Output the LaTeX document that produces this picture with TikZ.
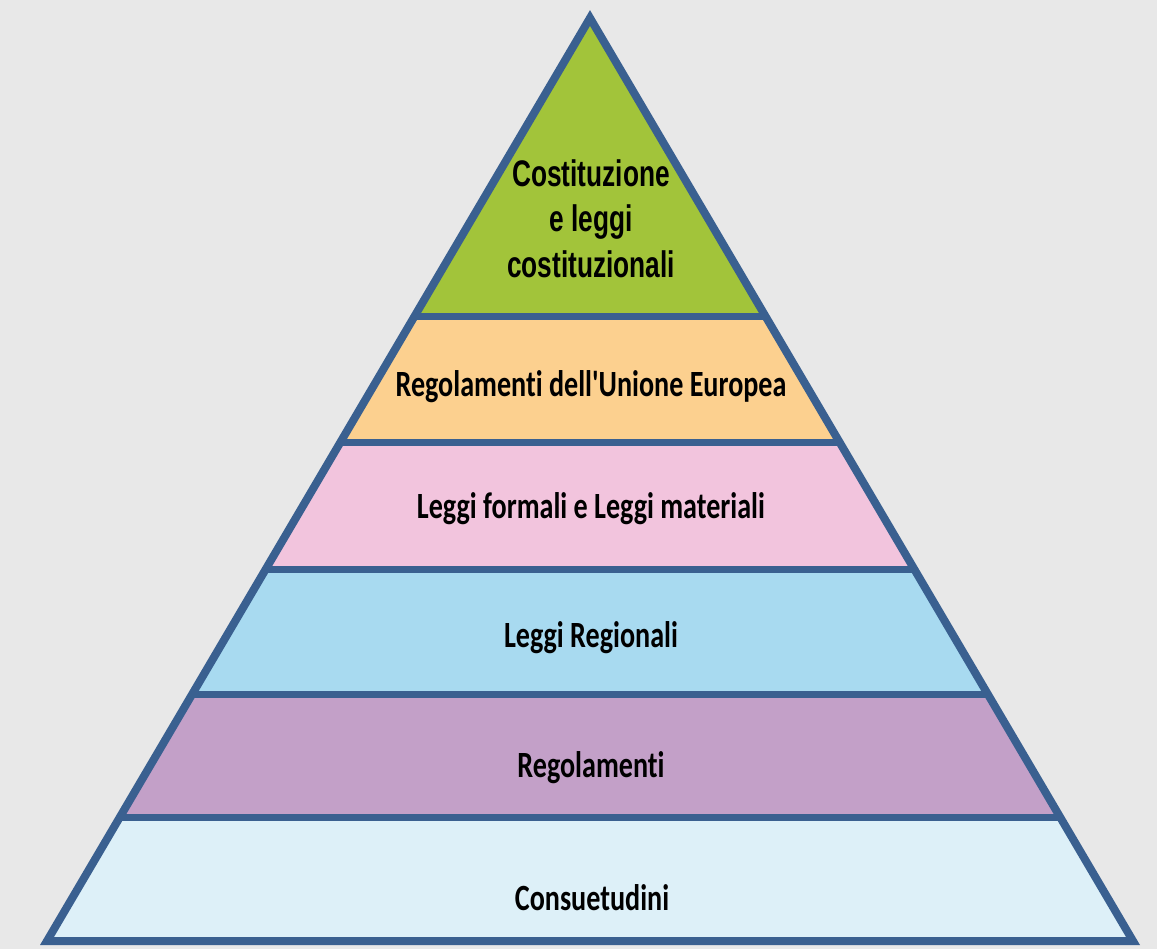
\documentclass[tikz,border=0pt]{standalone}
\usepackage{fontspec}
\usetikzlibrary{calc}
\newfontfamily\carl{Carlito}[Ligatures=NoCommon]
\newfontfamily\libs{Liberation Sans}
\definecolor{bgc}{HTML}{E8E8E8}
\definecolor{cgreen}{HTML}{A2C43A}
\definecolor{corange}{HTML}{FCD08F}
\definecolor{cpink}{HTML}{F2C4DD}
\definecolor{cblue}{HTML}{A8DAF0}
\definecolor{cpurple}{HTML}{C3A0C8}
\definecolor{clight}{HTML}{DDF0F8}
\definecolor{cborder}{HTML}{3A6090}
\newcommand{\toptext}[1]{\scalebox{0.71}[1]{\libs\bfseries\fontsize{37}{45}\selectfont #1}}
\newcommand{\bandtext}[1]{\scalebox{0.76}[1]{\carl\bfseries\fontsize{37}{45}\selectfont #1}}
\begin{document}
\begin{tikzpicture}[x=1pt,y=-1pt,
  lbl/.style={inner sep=0pt,anchor=base,text=black},
  sep/.style={draw=cborder,line width=7pt},
  outline/.style={draw=cborder,line width=8pt,line join=miter}]
\fill[bgc] (0,0) rectangle (1157,949);
\useasboundingbox (0,0) rectangle (1157,949);
\coordinate (A) at (590,18);
\coordinate (BL) at (47,941);
\coordinate (BR) at (1133,941);
\begin{scope}
\clip (A) -- (BL) -- (BR) -- cycle;
\fill[cgreen] (0,0) rectangle (1157,317);
\fill[corange] (0,317) rectangle (1157,442);
\fill[cpink] (0,442) rectangle (1157,569);
\fill[cblue] (0,569) rectangle (1157,694);
\fill[cpurple] (0,694) rectangle (1157,817);
\fill[clight] (0,817) rectangle (1157,949);
\foreach \t/\n in {0.3239/1,0.4594/2,0.5970/3,0.7324/4,0.8657/5}{
  \coordinate (L\n) at ($(A)!\t!(BL)$);
  \coordinate (R\n) at ($(A)!\t!(BR)$);
  \draw[sep] (L\n) -- (R\n);
}
\end{scope}
\draw[outline] (A) -- (BL) -- (BR) -- cycle;
\node[lbl] (t1) at (591,187) {\toptext{Costituzione}};
\node[lbl] (t2) at (591,232) {\toptext{e leggi}};
\node[lbl] (t3) at (591,278) {\toptext{costituzionali}};
\node[lbl] (b1) at (591,397) {\bandtext{Regolamenti dell'Unione Europea}};
\node[lbl] (b2) at (591,518) {\bandtext{Leggi formali e Leggi materiali}};
\node[lbl] (b3) at (591,647) {\bandtext{Leggi Regionali}};
\node[lbl] (b4) at (591,777) {\bandtext{Regolamenti}};
\node[lbl] (b5) at (592,910) {\bandtext{Consuetudini}};
\end{tikzpicture}
\end{document}
